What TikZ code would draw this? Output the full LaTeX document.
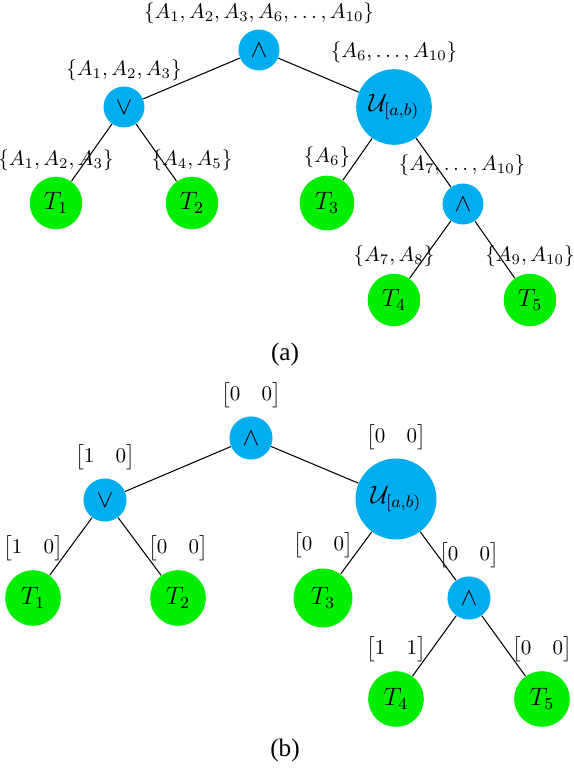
\documentclass[tikz,border=0pt]{standalone}
\usepackage{amsmath}
\usepackage{fontspec}
\usepackage{tikz}
\usetikzlibrary{positioning}
\newfontfamily\capfont{Liberation Serif}
\definecolor{cGate}{RGB}{0,174,239}
\definecolor{cLeaf}{RGB}{0,238,0}
\tikzset{
	gate/.style     ={circle, fill=cGate, minimum size=19.5pt, inner sep=0pt, font=\large},
	untilnode/.style={circle, fill=cGate, minimum size=36pt, inner sep=0pt, font=\large},
	leaf/.style     ={circle, fill=cLeaf, minimum size=25pt, inner sep=0pt, font=\large},
	lbl/.style      ={inner sep=0pt},
	link/.style     ={line width=0.5pt, black},
}

\begin{document}
\begin{tikzpicture}[x=0.476pt, y=-0.476pt]
	\useasboundingbox (0,0) rectangle (574,768);
	% (a) sets of atoms
	\node[gate] (rootA) at (259,50) {$\wedge$};
	\node[gate] (orA) at (124,107) {$\vee$};
	\node[untilnode] (untA) at (394,107) {$\mathcal{U}_{[a,b)}$};
	\node[leaf] (t1A) at (56,203) {$T_1$};
	\node[leaf] (t2A) at (192,203) {$T_2$};
	\node[leaf, minimum size=26pt] (t3A) at (327,203) {$T_3$};
	\node[gate] (andA) at (463,204) {$\wedge$};
	\node[leaf] (t4A) at (394,300) {$T_4$};
	\node[leaf] (t5A) at (530,300) {$T_5$};
	\foreach \a/\b in {rootA/orA, rootA/untA, orA/t1A, orA/t2A, untA/t3A, untA/andA, andA/t4A, andA/t5A}
		\draw[link] (\a) -- (\b);
	\node[lbl] (sRootA) at (259,13) {$\{A_1, A_2, A_3, A_6, \ldots, A_{10}\}$};
	\node[lbl] (sOrA) at (124,70) {$\{A_1, A_2, A_3\}$};
	\node[lbl] (sUntA) at (394,52) {$\{A_6, \ldots, A_{10}\}$};
	\node[lbl] (sT1A) at (56,160) {$\{A_1, A_2, A_3\}$};
	\node[lbl] (sT2A) at (192,160) {$\{A_4, A_5\}$};
	\node[lbl] (sT3A) at (327,157) {$\{A_6\}$};
	\node[lbl] (sAndA) at (462,165) {$\{A_7, \ldots, A_{10}\}$};
	\node[lbl] (sT4A) at (394,256) {$\{A_7, A_8\}$};
	\node[lbl] (sT5A) at (530,256) {$\{A_9, A_{10}\}$};
	\node[lbl] (capA) at (285,354) {\capfont\large (a)};
	% (b) truth vectors
	\node[gate, minimum size=20.5pt] (rootB) at (251,438) {$\wedge$};
	\node[gate, minimum size=20.5pt] (orB) at (105,500) {$\vee$};
	\node[untilnode, minimum size=38.5pt] (untB) at (396,499) {$\mathcal{U}_{[a,b)}$};
	\node[leaf, minimum size=26.5pt] (t1B) at (33,598) {$T_1$};
	\node[leaf, minimum size=26.5pt] (t2B) at (178,598) {$T_2$};
	\node[leaf, minimum size=28pt] (t3B) at (323,598) {$T_3$};
	\node[gate, minimum size=20.5pt] (andB) at (469,598) {$\wedge$};
	\node[leaf, minimum size=26.5pt] (t4B) at (396,699) {$T_4$};
	\node[leaf, minimum size=26.5pt] (t5B) at (542,699) {$T_5$};
	\foreach \a/\b in {rootB/orB, rootB/untB, orB/t1B, orB/t2B, untB/t3B, untB/andB, andB/t4B, andB/t5B}
		\draw[link] (\a) -- (\b);
	\node[lbl] (vRootB) at (251,395) {$\begin{bmatrix}0 & 0\end{bmatrix}$};
	\node[lbl] (vOrB) at (105,457) {$\begin{bmatrix}1 & 0\end{bmatrix}$};
	\node[lbl] (vUntB) at (396,437) {$\begin{bmatrix}0 & 0\end{bmatrix}$};
	\node[lbl] (vT1B) at (33,548) {$\begin{bmatrix}1 & 0\end{bmatrix}$};
	\node[lbl] (vT2B) at (178,548) {$\begin{bmatrix}0 & 0\end{bmatrix}$};
	\node[lbl] (vT3B) at (323,545) {$\begin{bmatrix}0 & 0\end{bmatrix}$};
	\node[lbl] (vAndB) at (469,555) {$\begin{bmatrix}0 & 0\end{bmatrix}$};
	\node[lbl] (vT4B) at (396,649) {$\begin{bmatrix}1 & 1\end{bmatrix}$};
	\node[lbl] (vT5B) at (542,649) {$\begin{bmatrix}0 & 0\end{bmatrix}$};
	\node[lbl] (capB) at (285,750) {\capfont\large (b)};
\end{tikzpicture}
\end{document}
